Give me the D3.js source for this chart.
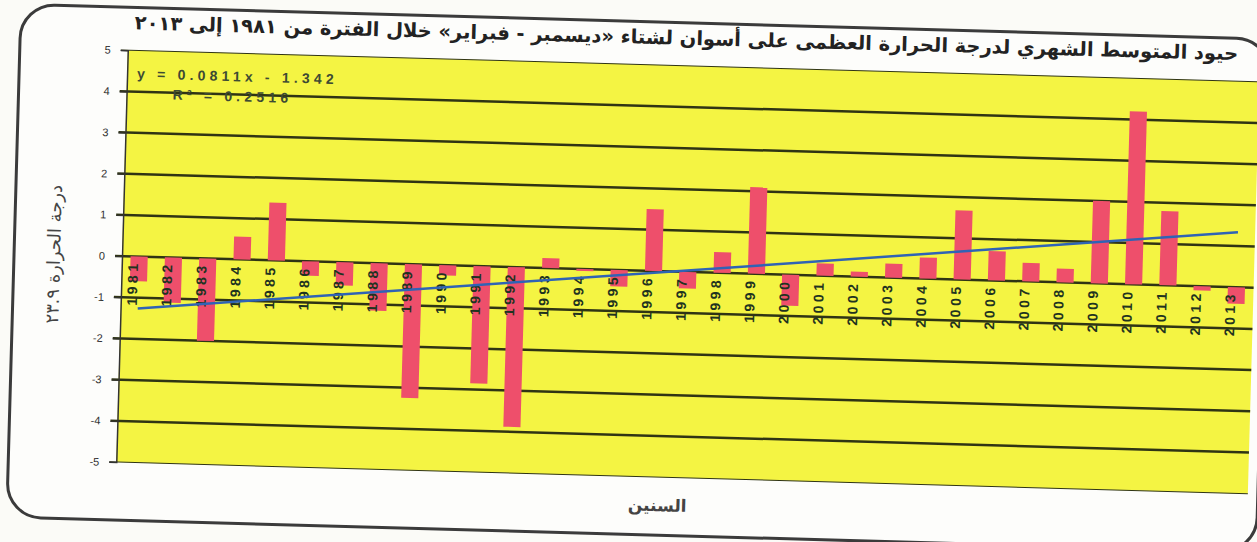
<!DOCTYPE html>
<html>
<head>
<meta charset="utf-8">
<script src="https://cdn.jsdelivr.net/npm/d3@7/dist/d3.min.js"></script>
<style>
  html, body { margin: 0; padding: 0; background: #fbfbf7; }
  svg { display: block; }
</style>
</head>
<body>
<div id="chart"></div>
<script>
const years = [1981, 1982, 1983, 1984, 1985, 1986, 1987, 1988, 1989, 1990, 1991,
               1992, 1993, 1994, 1995, 1996, 1997, 1998, 1999, 2000, 2001, 2002,
               2003, 2004, 2005, 2006, 2007, 2008, 2009, 2010, 2011, 2012, 2013];
const anomalies = [-0.6, -1.1, -2.0, 0.55, 1.4, -0.35, -0.56, -1.15, -3.25, -0.25, -2.85,
                   -3.88, 0.24, -0.05, -0.4, 1.5, -0.4, 0.5, 2.1, -0.75, 0.3, 0.12,
                   0.34, 0.51, 1.68, 0.71, 0.45, 0.33, 2.0, 4.2, 1.8, -0.1, -0.4];
const yTicks = [-5, -4, -3, -2, -1, 0, 1, 2, 3, 4, 5];
const trendSlope = 0.0811;
const trendIntercept = -1.342;
const equationText = "y = 0.0811x - 1.342";
const rSquaredText = "R² = 0.2516";
const chartTitle = "حيود المتوسط الشهري لدرجة الحرارة العظمى على أسوان لشتاء «ديسمبر - فبراير» خلال الفترة من ١٩٨١ إلى ٢٠١٣";
const yAxisTitle = "درجة الحرارة ٢٣.٩";
const xAxisTitle = "السنين";

const width = 1257, height = 542;
const plot = { left: 122, right: 1254, top: 50, bottom: 462 };
const latin = "Arial, 'Liberation Sans', sans-serif";
const arabic = "'DejaVu Sans', sans-serif";

const svg = d3.select("#chart")
    .append("svg")
    .attr("width", width)
    .attr("height", height);

// the scan is tilted a little clockwise
const g = svg.append("g")
    .attr("transform", "rotate(1.6, 118, 257)");

g.append("rect")
    .attr("x", 14)
    .attr("y", 7)
    .attr("width", 1250)
    .attr("height", 513)
    .attr("rx", 34)
    .attr("fill", "#fdfdfb")
    .attr("stroke", "#3b3b3b")
    .attr("stroke-width", 3);

const xScale = d3.scaleBand()
    .domain(years)
    .range([plot.left, plot.right])
    .paddingInner(0.5)
    .paddingOuter(0.25);

const yScale = d3.scaleLinear()
    .domain([-5, 5])
    .range([plot.bottom, plot.top]);

g.append("rect")
    .attr("x", plot.left)
    .attr("y", plot.top)
    .attr("width", plot.right - plot.left)
    .attr("height", plot.bottom - plot.top)
    .attr("fill", "#f4f443");

// grid lines
g.selectAll(".grid")
    .data(yTicks)
    .enter()
    .append("line")
    .attr("x1", plot.left - 7)
    .attr("x2", plot.right)
    .attr("y1", d => yScale(d))
    .attr("y2", d => yScale(d))
    .attr("stroke", "#2f3414")
    .attr("stroke-width", d => Math.abs(d) === 5 ? 1 : 2.5);

const yAxis = d3.axisLeft(yScale)
    .tickValues(yTicks)
    .tickSize(7)
    .tickFormat(d3.format("d"));

const yAxisG = g.append("g")
    .attr("transform", `translate(${plot.left}, 0)`)
    .call(yAxis);
yAxisG.select(".domain").attr("stroke", "#333").attr("stroke-width", 1.5);
yAxisG.selectAll(".tick line").attr("stroke", "#333");
yAxisG.selectAll(".tick text")
    .attr("x", -17)
    .style("font-family", latin)
    .style("font-size", "11px")
    .attr("fill", "#333")
    .text(d => d < 0 ? "-" + Math.abs(d) : d);

// bars
g.selectAll(".bar")
    .data(anomalies)
    .enter()
    .append("rect")
    .attr("x", (d, i) => xScale(years[i]))
    .attr("y", d => yScale(Math.max(0, d)))
    .attr("width", xScale.bandwidth())
    .attr("height", d => Math.abs(yScale(d) - yScale(0)))
    .attr("fill", "#ee4f6b");

// year labels
g.selectAll(".year")
    .data(years)
    .enter()
    .append("text")
    .attr("transform", d => `translate(${xScale(d) + xScale.bandwidth() / 2 - 1}, ${yScale(0) + 4}) rotate(-90)`)
    .attr("text-anchor", "end")
    .style("font-family", latin)
    .style("font-weight", "bold")
    .style("font-size", "14px")
    .style("letter-spacing", "3.5px")
    .attr("fill", "#1f3320")
    .text(d => d);

// linear trend
g.append("path")
    .datum([years[0], years[years.length - 1]])
    .attr("d", d3.line()
        .x(d => xScale(d) + xScale.bandwidth() / 2)
        .y(d => yScale(trendSlope * (years.indexOf(d) + 1) + trendIntercept)))
    .attr("fill", "none")
    .attr("stroke", "#2f63b5")
    .attr("stroke-width", 2.5);

g.append("text")
    .attr("x", 132)
    .attr("y", 78)
    .style("font-family", latin)
    .style("font-weight", "bold")
    .style("font-size", "14px")
    .style("letter-spacing", "4.2px")
    .attr("fill", "#3d4a33")
    .text(equationText);

g.append("text")
    .attr("x", 168)
    .attr("y", 98)
    .style("font-family", latin)
    .style("font-weight", "bold")
    .style("font-size", "14px")
    .style("letter-spacing", "4.2px")
    .attr("fill", "#3d4a33")
    .text(rSquaredText);

// titles
const title = g.append("text")
    .attr("x", 1232)
    .attr("y", 29)
    .attr("direction", "rtl")
    .attr("text-anchor", "start")
    .style("font-family", arabic)
    .style("font-weight", "bold")
    .style("font-size", "15px")
    .attr("fill", "#222")
    .text(chartTitle);

const titleLen = title.node().getComputedTextLength();
title.style("font-size", (15 * 1105 / titleLen) + "px");

g.append("text")
    .attr("transform", "translate(60, 256) rotate(-90)")
    .attr("text-anchor", "middle")
    .attr("direction", "rtl")
    .style("font-family", arabic)
    .style("font-size", "18px")
    .attr("fill", "#444")
    .text(yAxisTitle);

g.append("text")
    .attr("x", 664)
    .attr("y", 496)
    .attr("text-anchor", "middle")
    .attr("direction", "rtl")
    .style("font-family", arabic)
    .style("font-weight", "bold")
    .style("font-size", "17px")
    .attr("fill", "#444")
    .text(xAxisTitle);
</script>
</body>
</html>
